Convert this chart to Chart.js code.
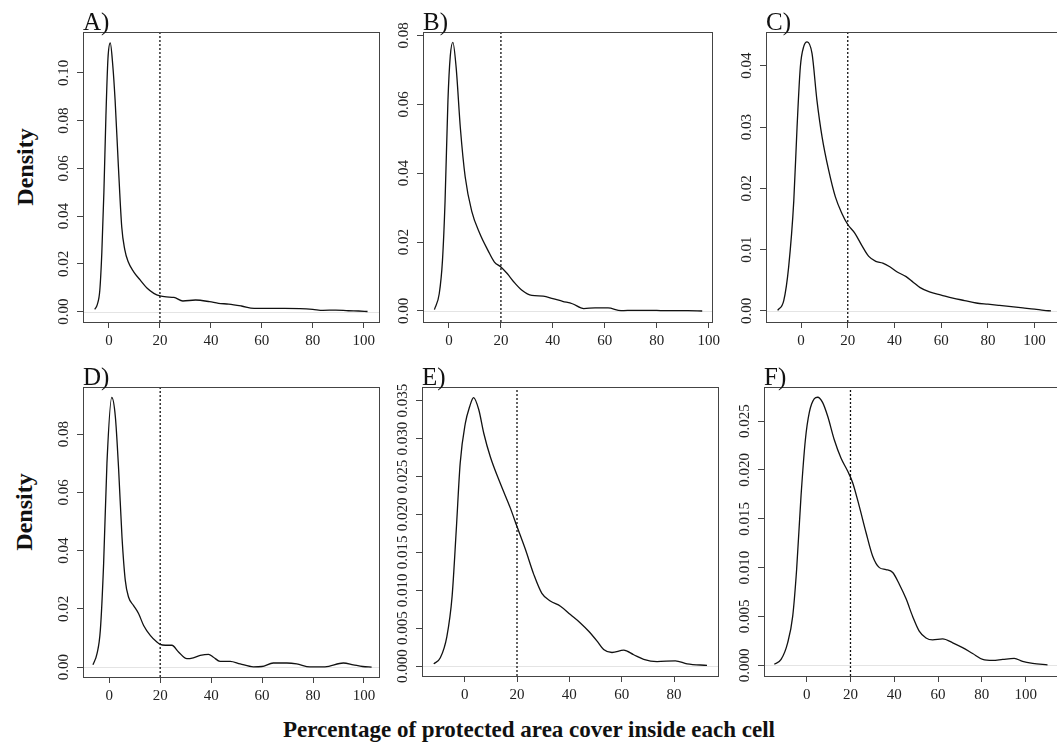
<!DOCTYPE html>
<html>
<head>
<meta charset="utf-8">
<script src="https://cdn.jsdelivr.net/npm/chart.js@4.4.1/dist/chart.umd.min.js"></script>
<style>
  html, body { margin: 0; padding: 0; background: #fff; overflow: hidden; }
  body { width: 1057px; height: 747px; position: relative; font-family: 'Liberation Serif', 'Times New Roman', serif; color: #111; }
  canvas { position: absolute; }
  .ylab { position: absolute; font-weight: bold; font-size: 24px; transform: translate(-50%, -50%) rotate(-90deg); white-space: nowrap; }
  .xlab { position: absolute; font-weight: bold; font-size: 23px; transform: translate(-50%, -50%); white-space: nowrap; }
</style>
</head>
<body>
<div class="ylab" style="left:25px; top:167px;">Density</div>
<div class="ylab" style="left:24px; top:512px;">Density</div>
<div class="xlab" style="left:529px; top:730px;">Percentage of protected area cover inside each cell</div>
<script>
// x tick labels shared by every panel, and the 20% cut-off line
const xTicks = [0, 20, 40, 60, 80, 100];
const cutoff = 20;

// A)
const aX = [-5.6, -4.6, -3.6, -2.8, -2.0, -1.2, -0.4, 0.5, 1.5, 2.4, 3.7, 5.0, 6.2, 7.5, 9.7, 12.3, 15, 17.6, 20, 22.5, 25.5, 29, 34, 39.5, 43, 47, 52, 57, 63, 69, 75, 80, 84, 89, 94, 98, 101.5];
const aY = [.001, .003, .009, .025, .05, .082, .106, .1125, .103, .0886, .0607, .0356, .026, .021, .0167, .0132, .0098, .0077, .0066, .0062, .006, .0045, .0049, .0042, .0035, .0032, .0024, .0014, .0014, .0014, .0013, .001, .0006, .0007, .0004, .0003, .0001];
const aTicks = [0, 0.02, 0.04, 0.06, 0.08, 0.10];

// B)
const bX = [-5.6, -3.75, -2.5, -1.5, -0.4, 0.5, 1.5, 2.75, 4.4, 6.25, 8.75, 11.9, 15, 17.5, 20, 22.5, 25, 28.1, 31.9, 36.25, 40, 43.75, 47.5, 51.9, 56.25, 61.25, 66.25, 71.25, 77.5, 82.5, 87.5, 92, 97.5];
const bY = [.0004, .005, .0147, .032, .061, .074, .078, .0708, .053, .0389, .029, .0224, .0176, .0142, .0128, .0108, .0084, .006, .0045, .0043, .0036, .0028, .0021, .0007, .0009, .0009, .0001, .0002, .0002, .0001, .0001, .0001, 0];
const bTicks = [0, 0.02, 0.04, 0.06, 0.08];

// C)
const cX = [-10, -7.4, -5.3, -3.1, -1.7, -0.3, 1.2, 2.6, 4.7, 6.8, 9, 11.8, 14.7, 17.5, 20, 23, 26, 29, 32, 35, 38, 41, 45, 48, 51, 55, 60, 65, 70, 75, 80, 85, 90, 95, 100, 104, 107];
const cY = [.0001, .0017, .0072, .018, .030, .0398, .0432, .0439, .042, .0344, .0284, .023, .0186, .0159, .0141, .0127, .0107, .0089, .0081, .0078, .0072, .0064, .0056, .0047, .0038, .0031, .0026, .0021, .0017, .0013, .0011, .0009, .0007, .0005, .0003, .0001, 0];
const cTicks = [0, 0.01, 0.02, 0.03, 0.04];

// D)
const dX = [-6.4, -4.8, -3.5, -2.2, -0.9, 1.0, 2.4, 3.7, 5.0, 6.3, 7.6, 9.5, 11.5, 13.5, 16.1, 18.7, 20, 22, 24.6, 27.2, 30.5, 33, 35.7, 39, 40.9, 43.5, 47.5, 51.4, 56.6, 59.9, 64.4, 69.7, 73.6, 78.8, 84.7, 91.9, 95.8, 99.5, 103];
const dY = [.0008, .0046, .0126, .0356, .070, .0926, .086, .0677, .0448, .0298, .024, .0212, .0184, .0143, .0109, .0086, .0078, .0075, .0075, .0052, .0029, .0032, .004, .0044, .0034, .002, .002, .0011, .0001, .0002, .0014, .0014, .0011, .0001, .0001, .0014, .0008, .0002, 0];
const dTicks = [0, 0.02, 0.04, 0.06, 0.08];

// E)
const eX = [-11.8, -9.3, -6.8, -4.8, -3.2, -1.7, 0.25, 1.9, 3.4, 5.4, 7.3, 9.8, 13.6, 17.5, 20, 23.2, 26.4, 29.5, 32.7, 36.6, 40.4, 44.2, 47.4, 50.6, 53.1, 56.3, 60.8, 64.6, 68.4, 73.5, 80.5, 85, 92.6];
const eY = [.0003, .0011, .0039, .0092, .018, .0268, .032, .0342, .0354, .0338, .0307, .0276, .0241, .0208, .0184, .0154, .0121, .0096, .0086, .0079, .0068, .0057, .0046, .0033, .0022, .0018, .0021, .0015, .0009, .0006, .0007, .0003, .0001];
const eTicks = [0, 0.005, 0.010, 0.015, 0.020, 0.025, 0.030, 0.035];

// F)
const fX = [-14.8, -11.7, -8.7, -6.4, -4.6, -2.6, -0.6, 1.2, 3.5, 5, 7.3, 9.6, 12.6, 15.7, 18.7, 21, 24, 27.1, 30.1, 33.2, 36.2, 39.3, 42.3, 45.4, 48.4, 51.4, 54.5, 57.5, 62.1, 66.7, 71.2, 75.8, 80.4, 84.9, 89.5, 94.8, 98.6, 103.2, 110];
const fY = [.0001, .0006, .0023, .005, .0098, .0173, .0231, .0259, .0273, .02745, .0269, .0255, .0231, .0212, .0199, .0187, .0163, .0136, .0112, .01, .0098, .0095, .0083, .0068, .005, .0035, .0028, .0026, .0027, .0023, .0018, .0012, .0006, .0005, .0006, .0007, .0004, .0002, .00003];
const fTicks = [0, 0.005, 0.010, 0.015, 0.020, 0.025];

// box = [left, top, right, bottom] of each plot frame on the page
const panels = [
  {label: 'A)', xs: aX, ys: aY, yTicks: aTicks, digits: 2, box: [83, 32, 379, 322], xr: [-10.2, 106], yr: [-0.0043, 0.1171]},
  {label: 'B)', xs: bX, ys: bY, yTicks: bTicks, digits: 2, box: [423, 32, 720, 322], xr: [-10, 101.3], yr: [-0.0032, 0.081]},
  {label: 'C)', xs: cX, ys: cY, yTicks: cTicks, digits: 2, box: [766, 32, 1061, 322], xr: [-15, 111.3], yr: [-0.0018, 0.0455]},
  {label: 'D)', xs: dX, ys: dY, yTicks: dTicks, digits: 2, box: [83, 387, 379, 677], xr: [-10.3, 105.9], yr: [-0.0034, 0.0962]},
  {label: 'E)', xs: eX, ys: eY, yTicks: eTicks, digits: 3, box: [422, 387, 718, 676], xr: [-16.3, 96.8], yr: [-0.0013, 0.0368]},
  {label: 'F)', xs: fX, ys: fY, yTicks: fTicks, digits: 3, box: [764, 387, 1060, 676], xr: [-19.5, 115.7], yr: [-0.0011, 0.0285]}
];

const PAD_TOP = 34, AXIS_W = 60, AXIS_H = 40, PAD_RIGHT = 4;

const frame = {
  id: 'frame',
  beforeDatasetsDraw(chart) {
    const {ctx, chartArea: a, scales: {y}} = chart;
    const y0 = Math.round(y.getPixelForValue(0)) + 0.5;
    ctx.save();
    ctx.strokeStyle = '#e4e4e4';
    ctx.lineWidth = 1;
    ctx.beginPath();
    ctx.moveTo(a.left, y0);
    ctx.lineTo(a.right, y0);
    ctx.stroke();
    ctx.restore();
  },
  afterDraw(chart, args, opts) {
    const {ctx, chartArea: a, scales: {y}} = chart;
    ctx.save();
    ctx.strokeStyle = '#444';
    ctx.lineWidth = 1;
    ctx.strokeRect(Math.round(a.left) + 0.5, Math.round(a.top) + 0.5, Math.round(a.right - a.left), Math.round(a.bottom - a.top));
    // y tick labels, parallel to the axis as R draws them
    ctx.fillStyle = '#222';
    ctx.font = '15px "Liberation Serif"';
    ctx.textAlign = 'center';
    ctx.textBaseline = 'middle';
    y.ticks.forEach(t => {
      ctx.save();
      ctx.translate(a.left - 19, y.getPixelForValue(t.value));
      ctx.rotate(-Math.PI / 2);
      ctx.fillText(t.value.toFixed(opts.digits), 0, 0);
      ctx.restore();
    });
    ctx.fillStyle = '#111';
    ctx.font = '25px "Liberation Serif"';
    ctx.textAlign = 'left';
    ctx.textBaseline = 'alphabetic';
    ctx.fillText(opts.label, a.left, a.top - 2);
    ctx.restore();
  }
};

panels.forEach(p => {
  const [L, T, R, B] = p.box;
  const canvas = document.createElement('canvas');
  canvas.width = R - L + AXIS_W + PAD_RIGHT;
  canvas.height = B - T + PAD_TOP + AXIS_H;
  canvas.style.left = (L - AXIS_W) + 'px';
  canvas.style.top = (T - PAD_TOP) + 'px';
  document.body.appendChild(canvas);

  new Chart(canvas, {
    type: 'scatter',
    data: {
      datasets: [
        {
          data: p.xs.map((x, i) => ({x: x, y: p.ys[i]})),
          showLine: true,
          borderColor: '#111',
          borderWidth: 1.3,
          pointRadius: 0,
          cubicInterpolationMode: 'monotone'
        },
        {
          data: [{x: cutoff, y: p.yr[0]}, {x: cutoff, y: p.yr[1]}],
          showLine: true,
          borderColor: '#111',
          borderWidth: 1.3,
          borderDash: [2, 2],
          pointRadius: 0
        }
      ]
    },
    options: {
      responsive: false,
      animation: false,
      devicePixelRatio: 1,
      layout: {padding: {left: 0, top: PAD_TOP, right: PAD_RIGHT, bottom: 0}},
      plugins: {
        legend: {display: false},
        tooltip: {enabled: false},
        frame: {label: p.label, digits: p.digits}
      },
      scales: {
        x: {
          type: 'linear',
          min: p.xr[0],
          max: p.xr[1],
          afterBuildTicks: s => { s.ticks = xTicks.filter(v => v >= s.min && v <= s.max).map(v => ({value: v})); },
          afterFit: s => { s.height = AXIS_H; },
          grid: {display: true, drawOnChartArea: false, drawTicks: true, tickLength: 6, color: '#444'},
          border: {display: false},
          ticks: {color: '#222', padding: 4, maxRotation: 0, font: {family: 'Liberation Serif', size: 15}, callback: v => String(v)}
        },
        y: {
          type: 'linear',
          min: p.yr[0],
          max: p.yr[1],
          afterBuildTicks: s => { s.ticks = p.yTicks.map(v => ({value: v})); },
          afterFit: s => { s.width = AXIS_W; },
          grid: {display: true, drawOnChartArea: false, drawTicks: true, tickLength: 6, color: '#444'},
          border: {display: false},
          ticks: {display: false}
        }
      }
    },
    plugins: [frame]
  });
});
</script>
</body>
</html>
